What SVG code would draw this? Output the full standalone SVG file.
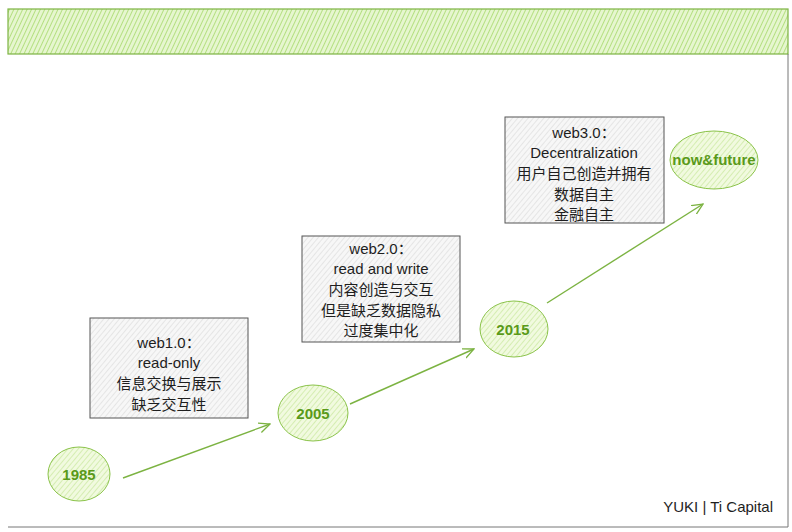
<svg xmlns="http://www.w3.org/2000/svg" width="792" height="532" viewBox="0 0 792 532">
<defs>
<pattern id="hg" patternUnits="userSpaceOnUse" width="4" height="4" patternTransform="rotate(25)">
<rect width="4" height="4" fill="#e6f6cf"/>
<line x1="0" y1="0" x2="0" y2="4" stroke="#aedd78" stroke-width="1.8"/>
</pattern>
<pattern id="hgray" patternUnits="userSpaceOnUse" width="4" height="4" patternTransform="rotate(40)">
<rect width="4" height="4" fill="#f7f7f7"/>
<line x1="0" y1="0" x2="0" y2="4" stroke="#d4d4d4" stroke-width="1"/>
</pattern>
<pattern id="hell" patternUnits="userSpaceOnUse" width="4" height="4" patternTransform="rotate(40)">
<rect width="4" height="4" fill="#f1fadf"/>
<line x1="0" y1="0" x2="0" y2="4" stroke="#c6e79a" stroke-width="1.3"/>
</pattern>
<marker id="ah" viewBox="0 0 12 12" refX="11" refY="6" markerWidth="12" markerHeight="12" markerUnits="userSpaceOnUse" orient="auto">
<path d="M0,1 L11,6 L0,11" fill="none" stroke="#7cb342" stroke-width="1.3"/>
</marker>
</defs>
<style>
.box{fill:url(#hgray);stroke:#555;stroke-width:1}
.ell{fill:url(#hell);stroke:#8bc34a;stroke-width:1}
.bt{font-family:"Liberation Sans","Noto Sans CJK SC",sans-serif;font-size:15px;fill:#1e1e1e;text-anchor:middle}
.et{font-family:"Liberation Sans",sans-serif;font-size:15px;font-weight:bold;fill:#5a9a1a;text-anchor:middle}
.conn{stroke:#7cb342;stroke-width:1.4;fill:none}
</style>
<rect width="792" height="532" fill="#fff"/>
<g id="frame">
<rect x="8" y="9" width="780" height="45" fill="url(#hg)" stroke="#7cb342" stroke-width="1.2"/>
<line x1="788" y1="54" x2="788" y2="527" stroke="#777" stroke-width="1"/>
<line x1="8" y1="527" x2="788" y2="527" stroke="#777" stroke-width="1"/>
</g>
<g id="connectors">
<line class="conn" x1="123" y1="478" x2="270" y2="424" marker-end="url(#ah)"/>
<line class="conn" x1="350" y1="404" x2="474" y2="349" marker-end="url(#ah)"/>
<line class="conn" x1="547" y1="303" x2="703" y2="204" marker-end="url(#ah)"/>
</g>
<g id="box1">
<rect class="box" x="90" y="318" width="158" height="100"/>
<text class="bt" x="169" y="348">web1.0：</text>
<text class="bt" x="169" y="368">read-only</text>
<text class="bt" x="169" y="389">信息交换与展示</text>
<text class="bt" x="169" y="410">缺乏交互性</text>
</g>
<g id="box2">
<rect class="box" x="302" y="236" width="158" height="106"/>
<text class="bt" x="381" y="254">web2.0：</text>
<text class="bt" x="381" y="274">read and write</text>
<text class="bt" x="381" y="295">内容创造与交互</text>
<text class="bt" x="381" y="316">但是缺乏数据隐私</text>
<text class="bt" x="381" y="336">过度集中化</text>
</g>
<g id="box3">
<rect class="box" x="505" y="117" width="159" height="106"/>
<text class="bt" x="584" y="138">web3.0：</text>
<text class="bt" x="584" y="158">Decentralization</text>
<text class="bt" x="584" y="179">用户自己创造并拥有</text>
<text class="bt" x="584" y="200">数据自主</text>
<text class="bt" x="584" y="220">金融自主</text>
</g>
<g id="n1985">
<ellipse class="ell" cx="79" cy="474" rx="31" ry="27"/>
<text class="et" x="79" y="480">1985</text>
</g>
<g id="n2005">
<ellipse class="ell" cx="313" cy="413" rx="35" ry="28"/>
<text class="et" x="313" y="419">2005</text>
</g>
<g id="n2015">
<ellipse class="ell" cx="514" cy="329" rx="34" ry="28"/>
<text class="et" x="513" y="335">2015</text>
</g>
<g id="nfuture">
<ellipse class="ell" cx="714" cy="160" rx="44" ry="29"/>
<text class="et" x="714" y="165" font-size="14">now&amp;future</text>
</g>
<g id="credit">
<text x="773" y="512" font-family="Liberation Sans,sans-serif" font-size="15" fill="#1e1e1e" text-anchor="end">YUKI | Ti Capital</text>
</g>
</svg>
